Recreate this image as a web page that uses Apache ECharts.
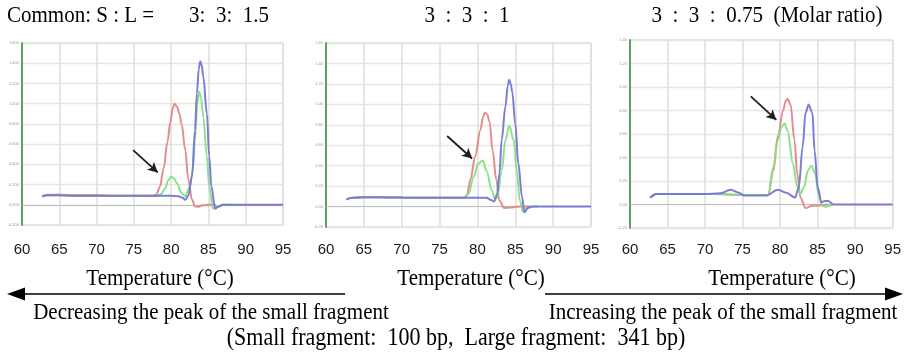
<!DOCTYPE html>
<html>
<head>
<meta charset="utf-8">
<script src="https://cdn.jsdelivr.net/npm/echarts@6/dist/echarts.min.js"></script>
<style>
html,body{margin:0;padding:0;background:#fff;}
#chart{width:904px;height:354px;}
</style>
</head>
<body>
<div id="chart"></div>
<script>
// ---- data (temperature °C, -dF/dT) ----
const xTicks = [60, 65, 70, 75, 80, 85, 90, 95];
const panelTitles = ["3:  3:  1.5", "3  :  3  :  1", "3  :  3  :  0.75  (Molar ratio)"];
const yMaxes = [1.6, 1.6, 1.4];

const p1Red = [[62.7,0.085],[63.5,0.1],[65,0.1],[67,0.095],[70,0.095],[72.5,0.09],[75,0.09],[77.5,0.09],[78,0.1],[78.5,0.18],[79,0.36],[79.5,0.62],[79.9,0.82],[80.2,0.95],[80.45,1.0],[80.8,0.97],[81.1,0.9],[81.4,0.8],[81.9,0.54],[82.3,0.25],[82.8,0.05],[83.2,-0.015],[83.6,-0.02],[84.2,-0.005],[85,0],[86,0]];
const p1Green = [[62.7,0.08],[63.5,0.095],[65,0.095],[67,0.09],[70,0.09],[72.5,0.088],[75,0.088],[77.5,0.088],[78.2,0.09],[78.7,0.11],[79.2,0.16],[79.6,0.24],[80,0.28],[80.4,0.26],[80.8,0.21],[81.4,0.115],[81.9,0.085],[82.5,0.18],[82.9,0.35],[83.2,0.64],[83.5,1.0],[83.75,1.12],[84,1.06],[84.3,0.87],[84.8,0.48],[85.1,0.18],[85.6,-0.04],[86.1,-0.02],[86.8,0],[88,0]];
const p1Blue = [[62.7,0.085],[63.5,0.095],[65,0.095],[67,0.09],[70,0.09],[72.5,0.09],[75,0.09],[78,0.09],[80,0.09],[81,0.085],[81.5,0.07],[81.9,0.05],[82.3,0.09],[82.8,0.28],[83.2,0.74],[83.45,1.1],[83.7,1.34],[83.9,1.42],[84.1,1.38],[84.3,1.27],[84.8,0.9],[85.1,0.48],[85.4,0.18],[85.9,-0.04],[86.3,-0.02],[87,0],[90,0],[95,0]];

const p2Red = [[62.7,0.07],[63.5,0.085],[65,0.09],[67,0.09],[70,0.088],[72.5,0.085],[75,0.085],[78.2,0.085],[78.6,0.11],[79.1,0.27],[79.7,0.49],[80.4,0.75],[80.75,0.88],[81.0,0.92],[81.3,0.9],[81.6,0.83],[82.0,0.55],[82.5,0.26],[82.9,0.06],[83.5,-0.013],[84.3,-0.01],[85.5,0],[87,0]];
const p2Green = [[62.7,0.07],[63.5,0.085],[65,0.09],[67,0.09],[70,0.088],[72.5,0.085],[75,0.085],[78.3,0.085],[78.8,0.12],[79.5,0.29],[80.1,0.42],[80.7,0.45],[81.2,0.35],[81.9,0.16],[82.3,0.075],[82.6,0.09],[83.2,0.35],[83.7,0.65],[84.2,0.79],[84.8,0.65],[85.2,0.35],[85.6,0.06],[86,-0.05],[86.5,-0.02],[87.2,0],[88,0]];
const p2Blue = [[62.7,0.07],[63.5,0.085],[65,0.09],[67,0.09],[70,0.088],[72.5,0.085],[75,0.085],[79,0.085],[81.2,0.085],[81.8,0.065],[82.2,0.05],[82.6,0.12],[82.9,0.32],[83.2,0.65],[83.7,0.98],[84.0,1.18],[84.2,1.24],[84.4,1.2],[84.6,1.12],[85,0.81],[85.4,0.42],[85.9,0.09],[86.2,-0.056],[86.7,-0.01],[87.4,0],[90,0],[95,0]];

const p3Red = [[62.7,0.057],[63.5,0.09],[65,0.09],[67,0.09],[70,0.09],[72.5,0.088],[75,0.08],[78.4,0.08],[79.1,0.29],[79.7,0.58],[80.4,0.8],[80.75,0.88],[81.0,0.9],[81.4,0.85],[81.9,0.55],[82.3,0.26],[82.7,0.06],[83.4,-0.03],[84.3,-0.01],[86.4,0]];
const p3Green = [[62.7,0.057],[63.5,0.09],[65,0.09],[67,0.09],[70,0.09],[72.5,0.088],[75,0.08],[78.4,0.08],[79.1,0.32],[79.7,0.55],[80.2,0.66],[80.6,0.69],[81,0.63],[81.7,0.35],[82.3,0.15],[82.7,0.09],[83.2,0.15],[83.7,0.29],[84.2,0.33],[84.7,0.26],[85.1,0.09],[85.6,-0.01],[86,-0.02],[86.6,-0.01],[87,0]];
const p3Blue = [[62.7,0.057],[63.5,0.09],[65,0.09],[67,0.09],[70,0.09],[72,0.095],[73.4,0.126],[74.5,0.1],[75.2,0.077],[78.2,0.077],[79.7,0.126],[80.8,0.1],[82,0.06],[82.5,0.15],[83,0.49],[83.4,0.78],[83.8,0.85],[84.3,0.78],[84.6,0.46],[85,0.15],[85.5,0.02],[86,0.03],[86.4,0.03],[87.1,0],[90,0],[95,0]];

// arrow annotations in data coordinates [start, end]
const arrowP1 = [[74.9,0.54],[78.2,0.32]];
const arrowP2 = [[76.0,0.69],[79.3,0.47]];
const arrowP3 = [[76.1,0.92],[79.5,0.72]];

const panels = [
  {red: p1Red, green: p1Green, blue: p1Blue, arrow: arrowP1, dec: 3},
  {red: p2Red, green: p2Green, blue: p2Blue, arrow: arrowP2, dec: 2},
  {red: p3Red, green: p3Green, blue: p3Blue, arrow: arrowP3, dec: 2}
];

// ---- layout ----
const grids = [
  {left: 22, top: 43, width: 261, height: 182},
  {left: 326, top: 43, width: 265, height: 184},
  {left: 630, top: 40, width: 269, height: 188}
];
const labelMargins = [17, 15, 14];
const colors = {red: '#e48686', green: '#84e084', blue: '#7676d4'};
const SERIF = '"Liberation Serif", "Times New Roman", serif';
const SANS = '"Liberation Sans", Arial, sans-serif';

const chart = echarts.init(document.getElementById('chart'), null, {renderer: 'canvas'});

const xAxis = [], yAxis = [], series = [];
panels.forEach((p, i) => {
  xAxis.push({
    type: 'value', gridIndex: i, min: xTicks[0], max: xTicks[xTicks.length - 1], interval: 5,
    axisLine: {show: true, lineStyle: {color: '#bdbdbd', width: 1}},
    axisTick: {show: false},
    axisLabel: {show: true, margin: labelMargins[i], fontFamily: SANS, fontSize: 15, color: '#1a1a1a'},
    splitLine: {show: true, lineStyle: {color: '#e0e0e0', width: 1.6}}
  });
  yAxis.push({
    type: 'value', gridIndex: i, min: -0.2, max: yMaxes[i], interval: 0.2,
    axisLine: {show: true, onZero: false, lineStyle: {color: '#5f9f5f', width: 2}},
    axisTick: {show: false},
    axisLabel: {show: true, margin: 3, fontSize: 4, color: '#9a9a9a', fontFamily: SANS,
      formatter: v => v.toFixed(p.dec)},
    splitLine: {show: true, lineStyle: {color: '#e6e6df', width: 1.3}}
  });
  ['red', 'green', 'blue'].forEach((c, k) => {
    const s = {
      type: 'line', xAxisIndex: i, yAxisIndex: i, data: p[c],
      smooth: 0.35, smoothMonotone: 'x', showSymbol: false, symbol: 'none',
      lineStyle: {color: colors[c], width: 2, opacity: 0.95},
      z: 3 + k
    };
    if (k === 2) {
      s.markLine = {
        silent: true, animation: false,
        symbol: ['none', 'arrow'], symbolSize: [8, 10],
        label: {show: false},
        lineStyle: {color: '#1e1e1e', width: 1.8, type: 'solid'},
        data: [[{coord: p.arrow[0]}, {coord: p.arrow[1]}]]
      };
    }
    series.push(s);
  });
});

const txt = (text, x, y, size, align) => ({
  type: 'text', x: x, y: y, silent: true, scaleY: 1.1,
  style: {text: text, font: size + 'px ' + SERIF, fill: '#000', textAlign: align || 'center', textVerticalAlign: 'middle'}
});

const graphic = [
  txt('Common: S : L =', 7, 16, 21, 'left'),
  txt(panelTitles[0], 229, 16, 21),
  txt(panelTitles[1], 467, 16, 21),
  txt(panelTitles[2], 767, 16, 21),
  txt('Temperature (°C)', 160, 279, 21),
  txt('Temperature (°C)', 471, 279, 21),
  txt('Temperature (°C)', 782, 279, 21),
  // left arrow
  {type: 'line', silent: true, shape: {x1: 345, y1: 294, x2: 22, y2: 294}, style: {stroke: '#000', lineWidth: 1.5}},
  {type: 'polygon', silent: true, shape: {points: [[7, 294], [25, 287.5], [25, 300.5]]}, style: {fill: '#000'}},
  // right arrow
  {type: 'line', silent: true, shape: {x1: 545, y1: 294, x2: 888, y2: 294}, style: {stroke: '#000', lineWidth: 1.5}},
  {type: 'polygon', silent: true, shape: {points: [[903, 294], [885, 287.5], [885, 300.5]]}, style: {fill: '#000'}},
  txt('Decreasing the peak of the small fragment', 211, 313, 21),
  txt('Increasing the peak of the small fragment', 723, 313, 21),
  txt('(Small fragment:  100 bp,  Large fragment:  341 bp)', 456, 339, 22)
];

chart.setOption({
  animation: false,
  backgroundColor: '#fff',
  grid: grids.map(g => Object.assign({show: true, borderColor: '#c8c8c8', borderWidth: 1, backgroundColor: 'transparent'}, g)),
  xAxis: xAxis,
  yAxis: yAxis,
  series: series,
  graphic: graphic
});
</script>
</body>
</html>
